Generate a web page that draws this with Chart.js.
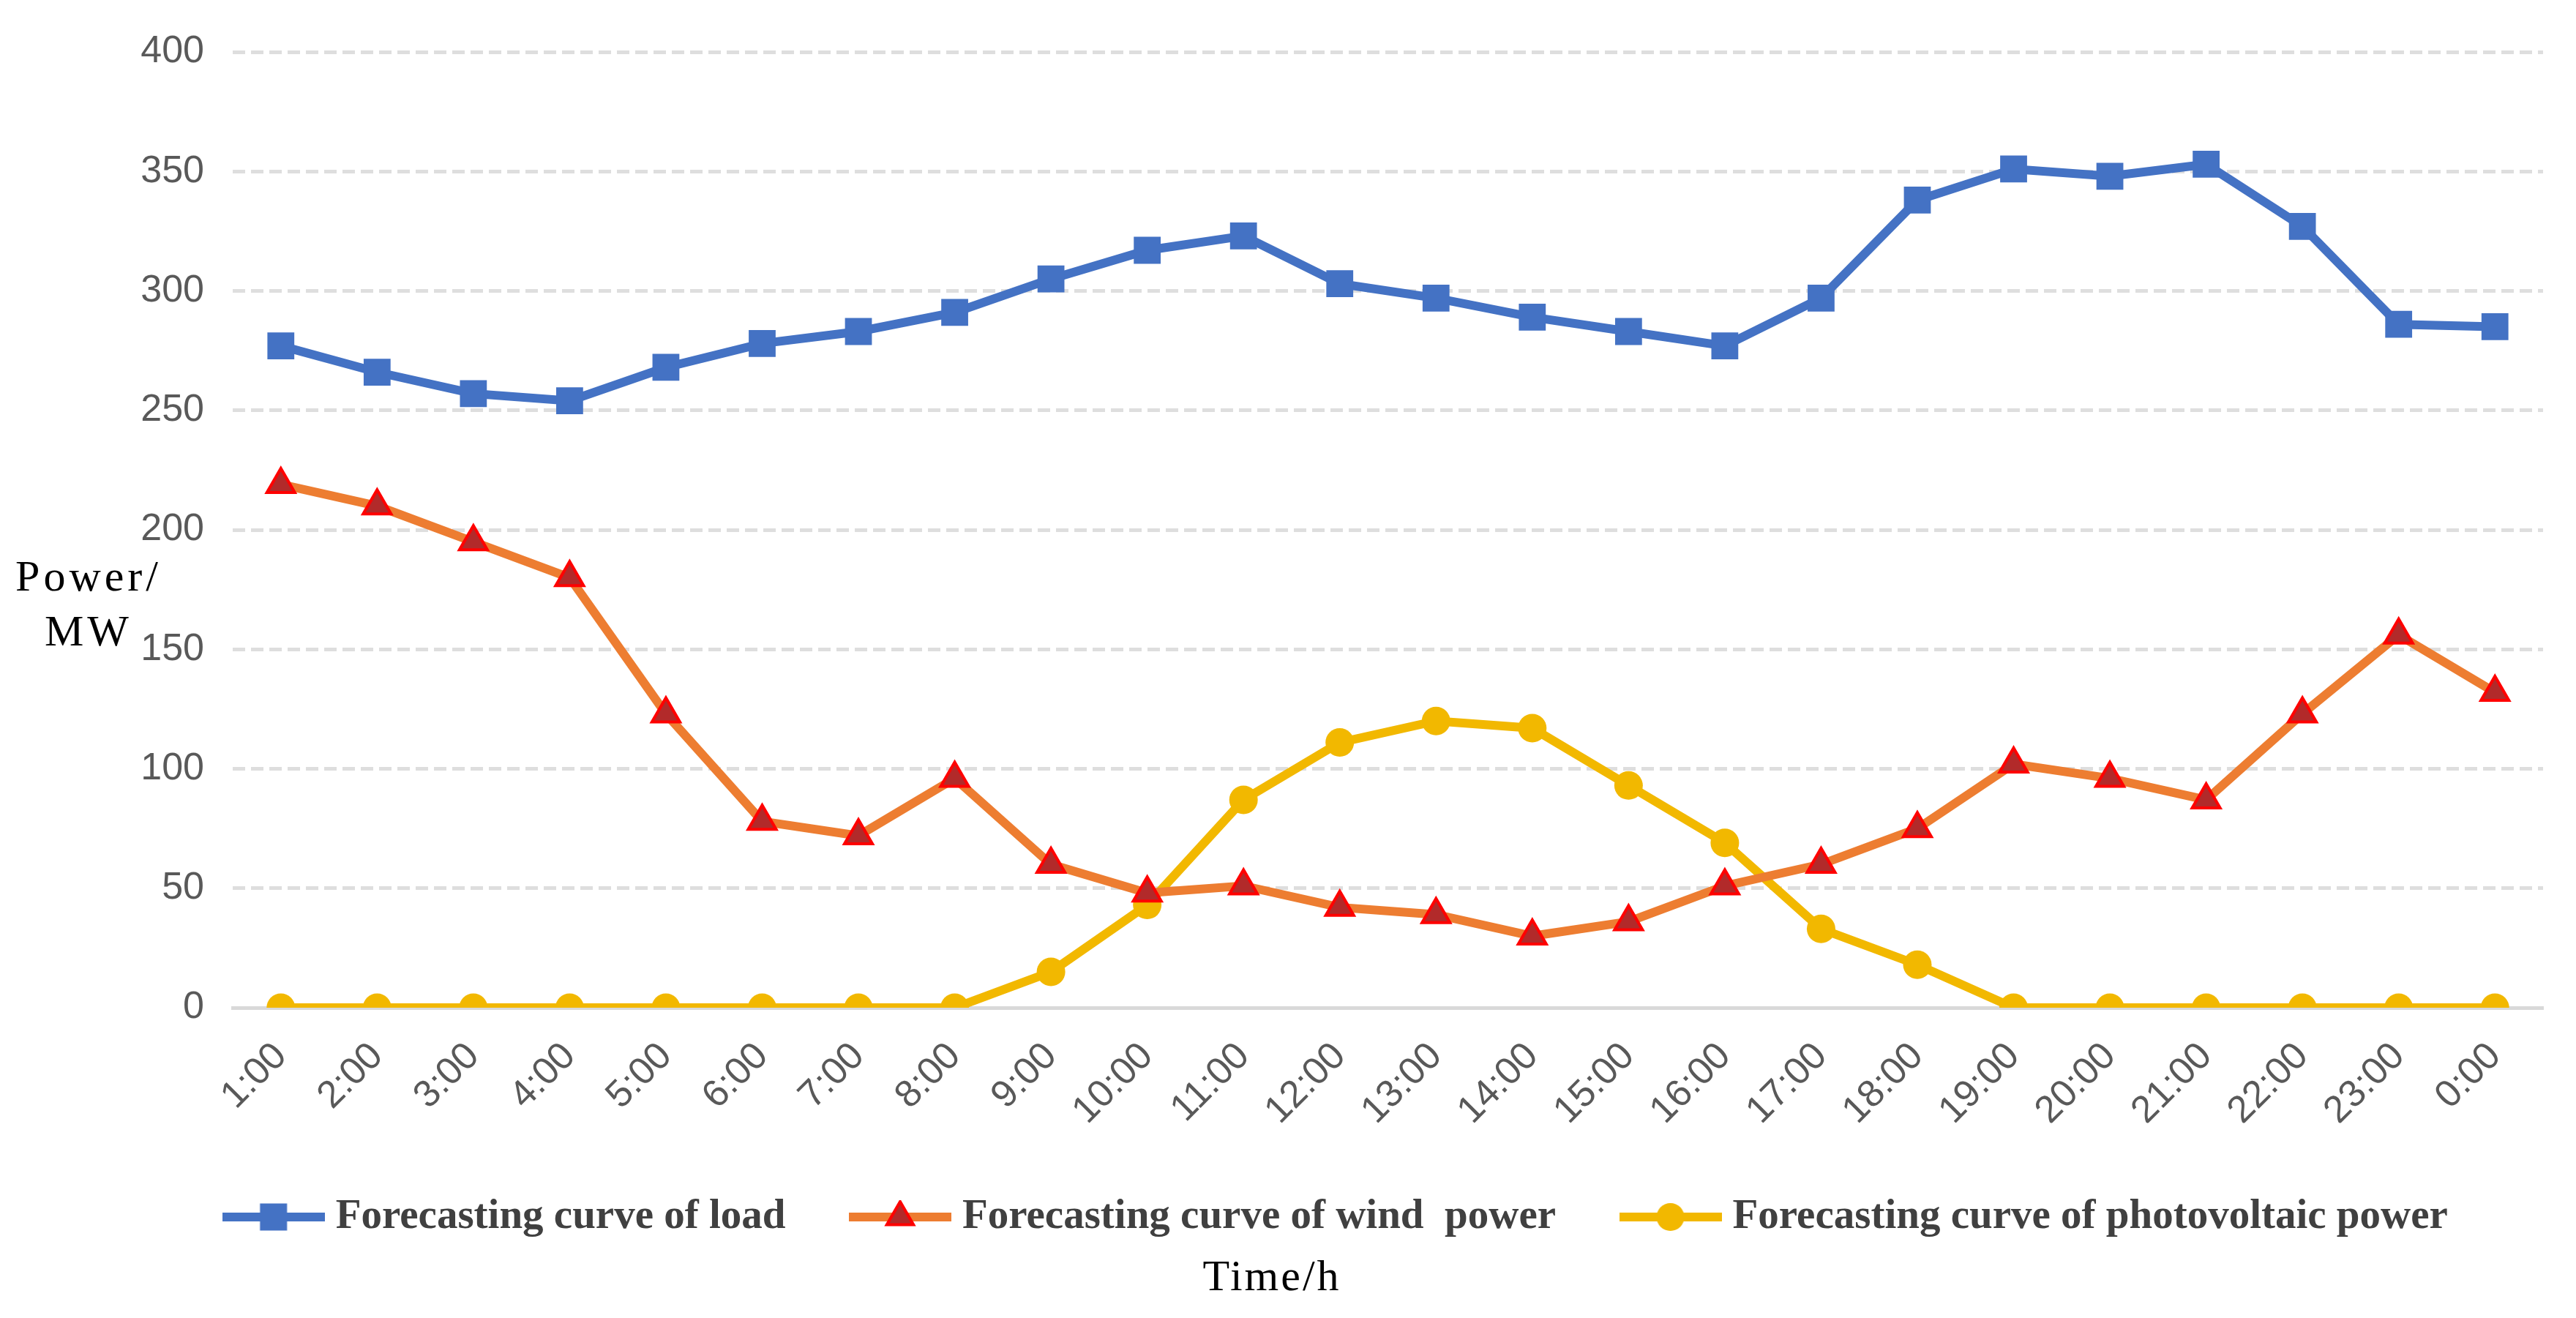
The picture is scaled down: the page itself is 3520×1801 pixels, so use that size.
<!DOCTYPE html>
<html>
<head>
<meta charset="utf-8">
<script src="https://cdn.jsdelivr.net/npm/chart.js@4.4.1/dist/chart.umd.min.js"></script>
<style>
  html, body { margin: 0; padding: 0; background: #fff; }
  canvas { display: block; }
</style>
</head>
<body>
<canvas id="forecastChart" width="3520" height="1801"></canvas>
<script>
// hours of the day
var hours = ["1:00", "2:00", "3:00", "4:00", "5:00", "6:00", "7:00", "8:00", "9:00", "10:00", "11:00", "12:00",
             "13:00", "14:00", "15:00", "16:00", "17:00", "18:00", "19:00", "20:00", "21:00", "22:00", "23:00", "0:00"];
// forecast values, MW
var loadPower = [277, 266, 257, 254, 268, 278, 283, 291, 305, 317, 323, 303,
                 297, 289, 283, 277, 297, 338, 351, 348, 353, 327, 286, 285];
var windPower = [219, 210, 195, 180, 123, 78, 72, 96, 60, 48, 51, 42,
                 39, 30, 36, 51, 60, 75, 102, 96, 87, 123, 156, 132];
var pvPower = [0, 0, 0, 0, 0, 0, 0, 0, 15, 43, 87, 111,
               120, 117, 93, 69, 33, 18, 0, 0, 0, 0, 0, 0];
var seriesNames = ["Forecasting curve of load", "Forecasting curve of wind  power", "Forecasting curve of photovoltaic power"];
var yTicks = [0, 50, 100, 150, 200, 250, 300, 350, 400];

var blue = '#4472C4';
var orange = '#ED7D31';
var gold = '#F2B800';

// small line + marker pictures for the legend
function legendIcon(color, marker) {
    var c = document.createElement('canvas');
    c.width = 140;
    c.height = 46;
    var g = c.getContext('2d');
    g.strokeStyle = color;
    g.lineWidth = 12;
    g.beginPath();
    g.moveTo(0, 23);
    g.lineTo(140, 23);
    g.stroke();
    if (marker === 'rect') {
        g.fillStyle = color;
        g.fillRect(70 - 18.5, 23 - 18.5, 37, 37);
    } else if (marker === 'triangle') {
        g.fillStyle = '#B22A2A';
        g.strokeStyle = '#FF0000';
        g.lineWidth = 4;
        g.beginPath();
        g.moveTo(70, 23 - 21);
        g.lineTo(70 + 18.2, 23 + 10.5);
        g.lineTo(70 - 18.2, 23 + 10.5);
        g.closePath();
        g.fill();
        g.stroke();
    } else {
        g.fillStyle = color;
        g.beginPath();
        g.arc(70, 23, 19, 0, Math.PI * 2);
        g.fill();
    }
    return c;
}
var legendIcons = [legendIcon(blue, 'rect'), legendIcon(orange, 'triangle'), legendIcon(gold, 'circle')];

// horizontal axis titles drawn outside the plot
var axisTitles = {
    id: 'axisTitles',
    afterDraw: function (chart) {
        var ctx = chart.ctx;
        ctx.save();
        ctx.fillStyle = '#000000';
        ctx.font = '60px "Liberation Serif"';
        ctx.textAlign = 'center';
        ctx.textBaseline = 'alphabetic';
        ctx.letterSpacing = '5px';
        ctx.fillText('Power/', 121, 807);
        ctx.fillText('MW', 121, 882);
        ctx.letterSpacing = '3px';
        ctx.fillText('Time/h', 1738, 1763);
        ctx.restore();
    }
};

var ctx = document.getElementById('forecastChart');
var forecastChart = new Chart(ctx, {
    type: 'line',
    data: {
        labels: hours,
        datasets: [{
            label: seriesNames[0],
            data: loadPower,
            borderColor: blue,
            backgroundColor: blue,
            borderWidth: 12,
            pointStyle: 'rect',
            pointRadius: 26,
            pointBorderWidth: 0,
            pointBackgroundColor: blue
        }, {
            label: seriesNames[1],
            data: windPower,
            borderColor: orange,
            backgroundColor: orange,
            borderWidth: 12,
            pointStyle: 'triangle',
            pointRadius: 22,
            pointBorderWidth: 4,
            pointBorderColor: '#FF0000',
            pointBackgroundColor: '#B22A2A'
        }, {
            label: seriesNames[2],
            data: pvPower,
            borderColor: gold,
            backgroundColor: gold,
            borderWidth: 12,
            pointStyle: 'circle',
            pointRadius: 19.5,
            pointBorderWidth: 0,
            pointBackgroundColor: gold
        }]
    },
    options: {
        responsive: false,
        animation: false,
        devicePixelRatio: 1,
        layout: {
            padding: { left: 187, right: 45, top: 71, bottom: 99.5 }
        },
        scales: {
            x: {
                offset: true,
                grid: { display: false, drawTicks: false },
                border: { display: true, color: '#D9D9D9', width: 5 },
                ticks: {
                    autoSkip: false,
                    maxRotation: 45,
                    minRotation: 45,
                    padding: 36,
                    color: '#595959',
                    font: { family: '"Liberation Sans"', size: 52 }
                },
                afterFit: function (scale) {
                    var legendHeight = scale.chart.legend ? scale.chart.legend.height : 167;
                    scale.height = (1801 - 99.5 - legendHeight) - 1377;
                }
            },
            y: {
                min: 0,
                max: 400,
                afterBuildTicks: function (scale) {
                    scale.ticks = yTicks.map(function (v) { return { value: v }; });
                },
                grid: {
                    drawTicks: false,
                    lineWidth: 5,
                    color: function (c) { return c.tick && c.tick.value === 0 ? 'rgba(0,0,0,0)' : '#DEDEDE'; }
                },
                border: { display: false, dash: [17, 8] },
                ticks: {
                    padding: 39,
                    color: '#595959',
                    font: { family: '"Liberation Sans"', size: 52 }
                },
                afterFit: function (scale) {
                    scale.width = 318 - 187;
                }
            }
        },
        plugins: {
            tooltip: { enabled: false },
            title: { display: false },
            legend: {
                position: 'bottom',
                labels: {
                    usePointStyle: true,
                    pointStyleWidth: 113,
                    padding: 100,
                    color: '#404040',
                    font: { family: '"Liberation Serif"', size: 57, weight: 'bold' },
                    generateLabels: function (chart) {
                        return chart.data.datasets.map(function (ds, i) {
                            return {
                                text: ds.label,
                                pointStyle: legendIcons[i],
                                fillStyle: 'rgba(0,0,0,0)',
                                strokeStyle: 'rgba(0,0,0,0)',
                                lineWidth: 0,
                                fontColor: '#404040',
                                hidden: false,
                                datasetIndex: i
                            };
                        });
                    }
                }
            }
        }
    },
    plugins: [axisTitles]
});
</script>
</body>
</html>
